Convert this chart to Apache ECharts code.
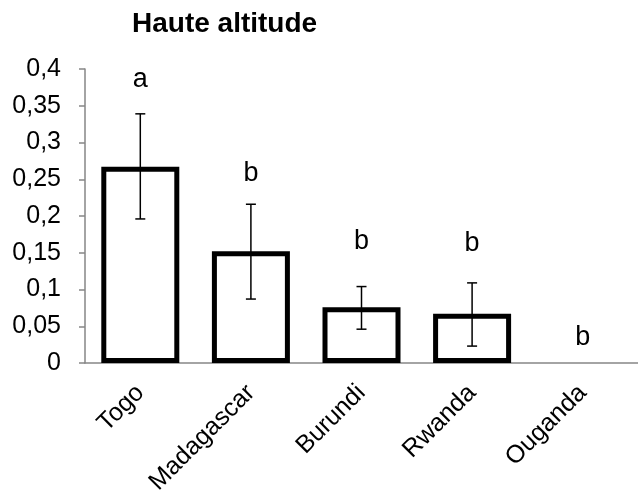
<!DOCTYPE html>
<html>
<head>
<meta charset="utf-8">
<script src="https://cdn.jsdelivr.net/npm/echarts@6/dist/echarts.min.js"></script>
<style>
  html, body { margin: 0; padding: 0; background: #fff; }
  #chart { width: 638px; height: 498px; }
</style>
</head>
<body>
<div id="chart"></div>
<script>
// Data
const countries = ['Togo', 'Madagascar', 'Burundi', 'Rwanda', 'Ouganda'];
const means = [0.267, 0.152, 0.076, 0.067, 0];
const errLow = [0.196, 0.087, 0.046, 0.023, 0];
const errHigh = [0.339, 0.216, 0.104, 0.109, 0];
const letters = ['a', 'b', 'b', 'b', 'b'];
const letterY = [0.385, 0.258, 0.165, 0.163, 0.035];
const yTicks = [0, 0.05, 0.1, 0.15, 0.2, 0.25, 0.3, 0.35, 0.4];

const font = 'Liberation Sans, Arial, sans-serif';
const chart = echarts.init(document.getElementById('chart'));

const option = {
    backgroundColor: '#fff',
    animation: false,
    title: {
        text: 'Haute altitude',
        left: 127,
        top: 5,
        textStyle: { fontFamily: font, fontSize: 28, fontWeight: 'bold', color: '#000' }
    },
    grid: { left: 85, top: 69, width: 563, height: 294 },
    xAxis: {
        type: 'category',
        data: countries,
        axisLine: { lineStyle: { color: '#868686', width: 1.5 } },
        axisTick: { show: false },
        axisLabel: { rotate: 45, margin: 26, fontFamily: font, fontSize: 25, color: '#000' }
    },
    yAxis: {
        type: 'value',
        min: yTicks[0],
        max: yTicks[yTicks.length - 1],
        interval: 0.05,
        axisLine: { show: true, lineStyle: { color: '#868686', width: 1.5 } },
        axisTick: { show: true, length: 6, lineStyle: { color: '#868686', width: 1.5 } },
        splitLine: { show: false },
        axisLabel: {
            margin: 24,
            fontFamily: font,
            fontSize: 25,
            color: '#000',
            formatter: v => String(+v.toFixed(2)).replace('.', ',')
        }
    },
    series: [
        {
            type: 'bar',
            data: means.map(v => ({ value: v, itemStyle: v === 0 ? { borderWidth: 0 } : undefined })),
            barWidth: 78,
            itemStyle: { color: '#fff', borderColor: '#000', borderWidth: 5 }
        },
        {
            // error bars
            type: 'custom',
            data: countries.map((c, i) => [i, errLow[i], errHigh[i]]),
            z: 5,
            renderItem: function (params, api) {
                const lo = api.coord([api.value(0), api.value(1)]);
                const hi = api.coord([api.value(0), api.value(2)]);
                if (api.value(2) === api.value(1)) return null;
                const w = 5;
                const style = { stroke: '#000', lineWidth: 1.5 };
                return {
                    type: 'group',
                    children: [
                        { type: 'line', shape: { x1: hi[0], y1: hi[1], x2: lo[0], y2: lo[1] }, style: style },
                        { type: 'line', shape: { x1: hi[0] - w, y1: hi[1], x2: hi[0] + w, y2: hi[1] }, style: style },
                        { type: 'line', shape: { x1: lo[0] - w, y1: lo[1], x2: lo[0] + w, y2: lo[1] }, style: style }
                    ]
                };
            }
        },
        {
            // significance letters
            type: 'scatter',
            data: letterY.map((y, i) => [i, y]),
            symbolSize: 0,
            itemStyle: { color: '#000', opacity: 1 },
            label: {
                show: true,
                position: 'inside',
                formatter: p => letters[p.dataIndex],
                fontFamily: font,
                fontSize: 27,
                color: '#000',
                opacity: 1,
                textBorderWidth: 0
            }
        }
    ]
};

chart.setOption(option);
</script>
</body>
</html>
